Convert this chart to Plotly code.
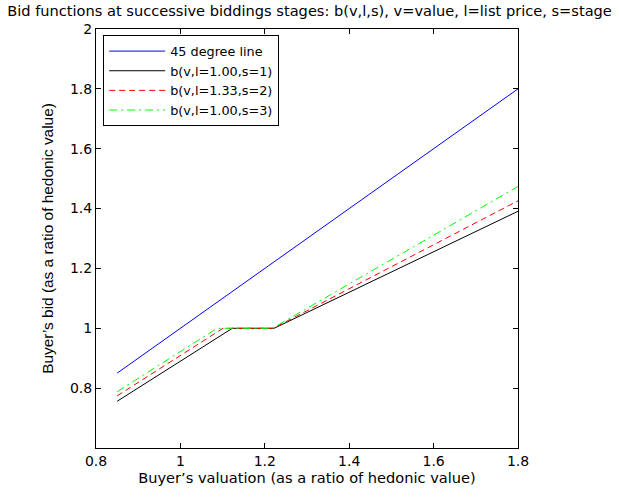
import plotly.graph_objects as go

# Buyer's valuation (ratio of hedonic value) at the breakpoints of each bid function
v_45 = [0.85, 1.80]
b_45 = [0.85, 1.80]

v_s1 = [0.85, 1.123, 1.222, 1.80]
b_s1 = [0.756, 1.00, 1.00, 1.391]

v_s2 = [0.85, 1.101, 1.220, 1.80]
b_s2 = [0.774, 1.00, 1.00, 1.426]

v_s3 = [0.85, 1.087, 1.218, 1.80]
b_s3 = [0.788, 1.00, 1.00, 1.474]

names = ["45 degree line", "b(v,l=1.00,s=1)", "b(v,l=1.33,s=2)", "b(v,l=1.00,s=3)"]

x_ticks = [0.8, 1.0, 1.2, 1.4, 1.6, 1.8]
x_tick_text = ["0.8", "1", "1.2", "1.4", "1.6", "1.8"]
y_ticks = [0.8, 1.0, 1.2, 1.4, 1.6, 1.8, 2.0]
y_tick_text = ["0.8", "1", "1.2", "1.4", "1.6", "1.8", "2"]

WIDE = "DejaVu Sans, Verdana, sans-serif"
NARROW = "Liberation Sans, Arial, sans-serif"

fig = go.Figure()
fig.add_trace(go.Scatter(x=v_45, y=b_45, mode="lines", name=names[0],
                         line=dict(color="#0000ff", width=1)))
fig.add_trace(go.Scatter(x=v_s1, y=b_s1, mode="lines", name=names[1],
                         line=dict(color="#000000", width=1)))
fig.add_trace(go.Scatter(x=v_s2, y=b_s2, mode="lines", name=names[2],
                         line=dict(color="#ff0000", width=1, dash="6px,4px")))
fig.add_trace(go.Scatter(x=v_s3, y=b_s3, mode="lines", name=names[3],
                         line=dict(color="#00ff00", width=1, dash="8px,4px,2px,4px")))

axis_common = dict(
    showgrid=False, zeroline=False, showline=True, linecolor="black", linewidth=1,
    mirror="ticks", ticks="inside", ticklen=5, tickcolor="black",
    tickfont=dict(family=WIDE, size=14, color="black"),
)

fig.update_layout(
    width=619, height=500,
    margin=dict(l=96, r=101, t=29, b=52),
    paper_bgcolor="white", plot_bgcolor="white",
    font=dict(family=WIDE, size=14, color="black"),
    title=dict(text="Bid functions at successive biddings stages: b(v,l,s), v=value, l=list price, s=stage",
               x=0.5, xanchor="center", y=0.978, yanchor="middle",
               font=dict(family=WIDE, size=14.6, color="black")),
    xaxis=dict(range=[0.8, 1.8], tickvals=x_ticks, ticktext=x_tick_text,
               title=dict(text="Buyer’s valuation (as a ratio of hedonic value)", standoff=4,
                          font=dict(family=WIDE, size=14.6)),
               **axis_common),
    yaxis=dict(range=[0.6, 2.0], tickvals=y_ticks, ticktext=y_tick_text,
               title=dict(text="Buyer’s bid (as a ratio of hedonic value)", standoff=12,
                          font=dict(family=NARROW, size=15.4)),
               **axis_common),
    legend=dict(x=0.017, y=0.985, xanchor="left", yanchor="top",
                bgcolor="white", bordercolor="black", borderwidth=1,
                itemwidth=56, font=dict(family=WIDE, size=12.8, color="black"),
                tracegroupgap=0),
    showlegend=True,
)

fig.write_html("out.html")
